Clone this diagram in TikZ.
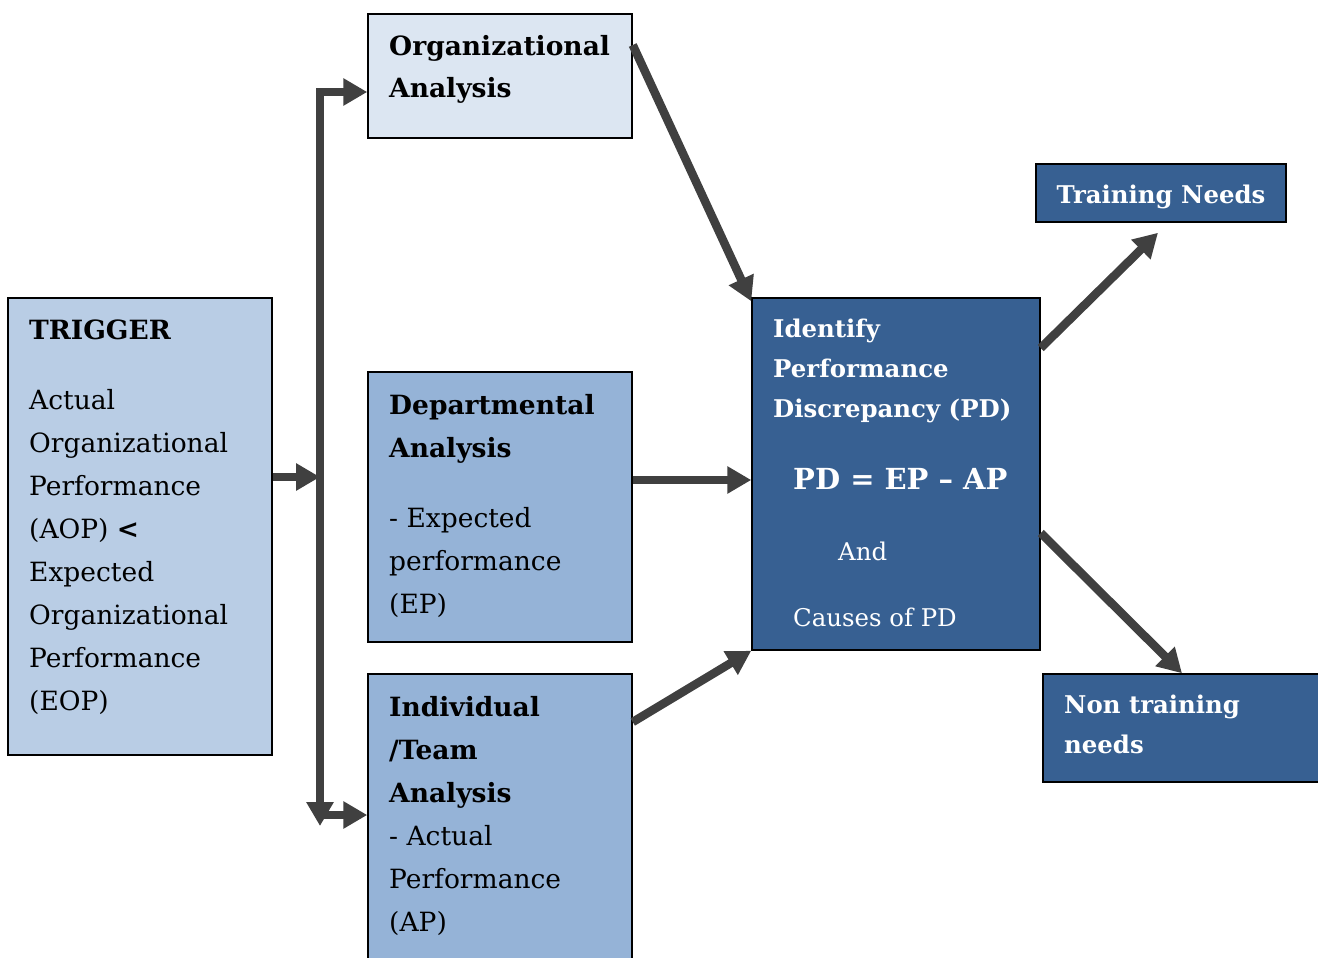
\documentclass[tikz,border=0pt]{standalone}
\usepackage{fontspec}
\setmainfont{DejaVu Serif}
\usetikzlibrary{arrows.meta}
\definecolor{orgfill}{HTML}{DCE6F2}
\definecolor{trigfill}{HTML}{B9CDE5}
\definecolor{deptfill}{HTML}{95B3D7}
\definecolor{darkfill}{HTML}{376092}
\definecolor{arrowcol}{HTML}{404040}
\tikzset{
  box/.style={draw=black, line width=1.5pt, rectangle, inner sep=0pt},
  txt/.style={anchor=base west, inner sep=0pt, align=left, font=\fontsize{26.5}{43}\selectfont},
  btxt/.style={txt, font=\fontsize{26.5}{43}\selectfont\bfseries},
  wtxt/.style={anchor=base west, inner sep=0pt, align=left, text=white, font=\fontsize{24.4}{40}\selectfont},
  wbtxt/.style={wtxt, font=\fontsize{24.4}{40}\selectfont\bfseries},
  arr/.style={draw=arrowcol, line width=8.5pt, -{Triangle[length=24pt,width=26pt]}}
}
\begin{document}
\begin{tikzpicture}[x=1pt,y=-1pt]
\clip (0,0) rectangle (1318,958);
\fill[white] (0,0) rectangle (1318,958);
% boxes
\node[box, fill=orgfill, minimum width=264pt, minimum height=124pt] (org) at (500,76) {};
\node[box, fill=trigfill, minimum width=264pt, minimum height=457pt] (trig) at (140,526.5) {};
\node[box, fill=deptfill, minimum width=264pt, minimum height=270pt] (dept) at (500,507) {};
\node[box, fill=deptfill, minimum width=264pt, minimum height=292pt] (ind) at (500,820) {};
\node[box, fill=darkfill, minimum width=288pt, minimum height=352pt] (pd) at (896,474) {};
\node[box, fill=darkfill, minimum width=250pt, minimum height=58pt] (tn) at (1161,193) {};
\node[box, fill=darkfill, minimum width=287pt, minimum height=108pt] (nt) at (1186.5,728) {};
% texts (base = baseline of the last line)
\node[btxt] (orgT) at (389,98) {Organizational\\Analysis};
\node[btxt] (trigH) at (29,339) {TRIGGER};
\node[txt] (trigT) at (29,710) {Actual\\Organizational\\Performance\\(AOP) \textbf{<}\\Expected\\Organizational\\Performance\\(EOP)};
\node[btxt] (deptH) at (389,457) {Departmental\\Analysis};
\node[txt] (deptT) at (389,613) {- Expected\\performance\\(EP)};
\node[btxt] (indH) at (389,802) {Individual\\/Team\\Analysis};
\node[txt] (indT) at (389,931) {- Actual\\Performance\\(AP)};
\node[wbtxt] (pdH) at (773,417) {Identify\\Performance\\Discrepancy (PD)};
\node[wbtxt, font=\fontsize{29}{40}\selectfont\bfseries] (pdF) at (793,489) {PD = EP – AP};
\node[wtxt] (pdA) at (838,560) {And};
\node[wtxt] (pdC) at (793,626) {Causes of PD};
\node[wbtxt, anchor=base] (tnT) at (1161,203) {Training Needs};
\node[wbtxt] (ntT) at (1064,753) {Non training\\needs};
% connectors
\coordinate (jn) at (320,477);
\coordinate (trunkEnd) at (320,826);
\coordinate (elbow) at (320,815);
\draw[arr] ([yshift=49.5pt]trig.east) -- (jn);
\draw[arr] (jn) |- ([yshift=-16pt]org.west);
\draw[arr] (jn) -- (trunkEnd);
\draw[arr] (elbow) -- ([yshift=5pt]ind.west);
\draw[arr] ([yshift=31pt]org.east) -- ([yshift=-4pt]pd.north west);
\draw[arr] ([yshift=27pt]dept.east) -- ([yshift=-6pt]pd.west);
\draw[arr] ([yshift=98pt]ind.east) -- (pd.south west);
\draw[arr] ([yshift=126pt]pd.east) -- ([xshift=-3pt,yshift=-10pt]tn.south);
\draw[arr] ([yshift=-59pt]pd.east) -- ([xshift=-4.5pt]nt.north);
\end{tikzpicture}
\end{document}
